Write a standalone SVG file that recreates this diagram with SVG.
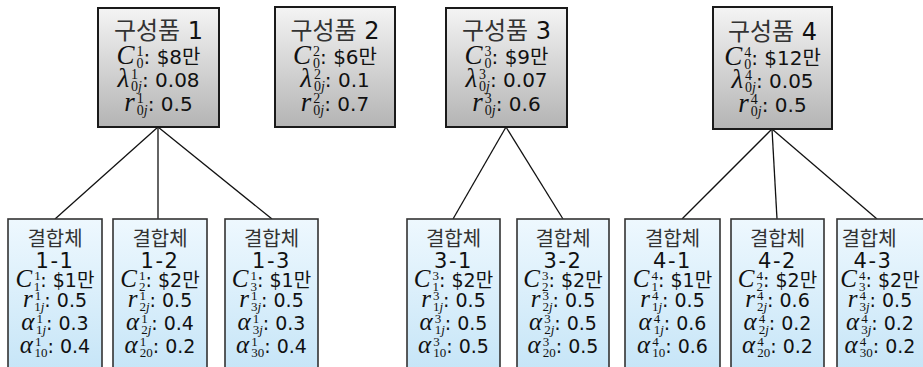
<svg xmlns="http://www.w3.org/2000/svg" width="923" height="367" viewBox="0 0 923 367">
<defs>
<linearGradient id="gg" x1="0" y1="0" x2="0" y2="1"><stop offset="0" stop-color="#f4f4f4"/><stop offset="1" stop-color="#b4b4b4"/></linearGradient>
<linearGradient id="gb" x1="0" y1="0" x2="0" y2="1"><stop offset="0" stop-color="#eef8fe"/><stop offset="1" stop-color="#c4e4f7"/></linearGradient>
</defs>
<style>
.top{fill:url(#gg);stroke:#1a1a1a;stroke-width:2}
.bot{fill:url(#gb);stroke:#333;stroke-width:1.6}
text{font-family:"DejaVu Sans","Noto Sans CJK KR",sans-serif;text-anchor:middle;fill:#111}
.h{font-size:24px;fill:#333}
.hn{fill:#111}
.tv{font-size:20px}
.bv{font-size:19px}
.bk{font-size:20px;fill:#333}
.bn{font-size:21px;letter-spacing:1.5px}
.mt{font-family:"Liberation Serif",serif;font-style:italic;font-size:27px}
.mb{font-family:"Liberation Serif",serif;font-style:italic;font-size:25px}
.st{font-family:"Liberation Serif",serif;font-style:normal;font-size:14px}
.sb{font-family:"Liberation Serif",serif;font-style:normal;font-size:13px}
.i{font-style:italic}
.c line{stroke:#111;stroke-width:1.3}
</style>
<g class="c" id="connectors">
<line x1="158" y1="127" x2="55" y2="219"/>
<line x1="158" y1="127" x2="158" y2="219"/>
<line x1="158" y1="127" x2="272" y2="219"/>
<line x1="506" y1="127" x2="453" y2="219"/>
<line x1="506" y1="127" x2="563" y2="219"/>
<line x1="772" y1="129" x2="682" y2="219"/>
<line x1="772" y1="129" x2="777" y2="219"/>
<line x1="772" y1="129" x2="877" y2="219"/>
</g>
<g id="comp1">
<rect class="top" x="98" y="8" width="121" height="119"/>
<text class="h" x="158.5" y="39">구성품 <tspan class="hn">1</tspan></text>
<text class="tv" x="158.5" y="64"><tspan class="mt">C</tspan><tspan class="st" dx="2" dy="-8">1</tspan><tspan class="st" dx="-7" dy="12">0</tspan><tspan dy="-4">: $8만</tspan></text>
<text class="tv" x="158.5" y="87"><tspan class="mt">λ</tspan><tspan class="st" dx="2" dy="-8">1</tspan><tspan class="st" dx="-7" dy="12">0<tspan class="i">j</tspan></tspan><tspan dy="-4">: 0.08</tspan></text>
<text class="tv" x="158.5" y="111"><tspan class="mt">r</tspan><tspan class="st" dx="2" dy="-8">1</tspan><tspan class="st" dx="-7" dy="12">0<tspan class="i">j</tspan></tspan><tspan dy="-4">: 0.5</tspan></text>
</g>
<g id="comp2">
<rect class="top" x="275" y="7" width="120" height="120"/>
<text class="h" x="335" y="39">구성품 <tspan class="hn">2</tspan></text>
<text class="tv" x="335" y="64"><tspan class="mt">C</tspan><tspan class="st" dx="2" dy="-8">2</tspan><tspan class="st" dx="-7" dy="12">0</tspan><tspan dy="-4">: $6만</tspan></text>
<text class="tv" x="335" y="87"><tspan class="mt">λ</tspan><tspan class="st" dx="2" dy="-8">2</tspan><tspan class="st" dx="-7" dy="12">0<tspan class="i">j</tspan></tspan><tspan dy="-4">: 0.1</tspan></text>
<text class="tv" x="335" y="111"><tspan class="mt">r</tspan><tspan class="st" dx="2" dy="-8">2</tspan><tspan class="st" dx="-7" dy="12">0<tspan class="i">j</tspan></tspan><tspan dy="-4">: 0.7</tspan></text>
</g>
<g id="comp3">
<rect class="top" x="446" y="8" width="121" height="119"/>
<text class="h" x="506.5" y="39">구성품 <tspan class="hn">3</tspan></text>
<text class="tv" x="506.5" y="64"><tspan class="mt">C</tspan><tspan class="st" dx="2" dy="-8">3</tspan><tspan class="st" dx="-7" dy="12">0</tspan><tspan dy="-4">: $9만</tspan></text>
<text class="tv" x="506.5" y="87"><tspan class="mt">λ</tspan><tspan class="st" dx="2" dy="-8">3</tspan><tspan class="st" dx="-7" dy="12">0<tspan class="i">j</tspan></tspan><tspan dy="-4">: 0.07</tspan></text>
<text class="tv" x="506.5" y="111"><tspan class="mt">r</tspan><tspan class="st" dx="2" dy="-8">3</tspan><tspan class="st" dx="-7" dy="12">0<tspan class="i">j</tspan></tspan><tspan dy="-4">: 0.6</tspan></text>
</g>
<g id="comp4">
<rect class="top" x="713" y="7" width="119" height="122"/>
<text class="h" x="772.5" y="40">구성품 <tspan class="hn">4</tspan></text>
<text class="tv" x="772.5" y="65"><tspan class="mt">C</tspan><tspan class="st" dx="2" dy="-8">4</tspan><tspan class="st" dx="-7" dy="12">0</tspan><tspan dy="-4">: $12만</tspan></text>
<text class="tv" x="772.5" y="88"><tspan class="mt">λ</tspan><tspan class="st" dx="2" dy="-8">4</tspan><tspan class="st" dx="-7" dy="12">0<tspan class="i">j</tspan></tspan><tspan dy="-4">: 0.05</tspan></text>
<text class="tv" x="772.5" y="112"><tspan class="mt">r</tspan><tspan class="st" dx="2" dy="-8">4</tspan><tspan class="st" dx="-7" dy="12">0<tspan class="i">j</tspan></tspan><tspan dy="-4">: 0.5</tspan></text>
</g>
<g id="asm1-1">
<rect class="bot" x="8" y="219" width="94" height="160"/>
<text class="bk" x="55" y="246">결합체</text>
<text class="bn" x="55" y="268">1-1</text>
<text class="bv" x="55" y="287"><tspan class="mb">C</tspan><tspan class="sb" dx="2" dy="-7">1</tspan><tspan class="sb" dx="-6.5" dy="11">1</tspan><tspan dy="-4">: $1만</tspan></text>
<text class="bv" x="55" y="307"><tspan class="mb">r</tspan><tspan class="sb" dx="2" dy="-7">1</tspan><tspan class="sb" dx="-6.5" dy="11">1<tspan class="i">j</tspan></tspan><tspan dy="-4">: 0.5</tspan></text>
<text class="bv" x="55" y="330"><tspan class="mb">α</tspan><tspan class="sb" dx="2" dy="-7">1</tspan><tspan class="sb" dx="-6.5" dy="11">1<tspan class="i">j</tspan></tspan><tspan dy="-4">: 0.3</tspan></text>
<text class="bv" x="55" y="353"><tspan class="mb">α</tspan><tspan class="sb" dx="2" dy="-7">1</tspan><tspan class="sb" dx="-6.5" dy="11">10</tspan><tspan dy="-4">: 0.4</tspan></text>
</g>
<g id="asm1-2">
<rect class="bot" x="113" y="219" width="94" height="160"/>
<text class="bk" x="160" y="246">결합체</text>
<text class="bn" x="160" y="268">1-2</text>
<text class="bv" x="160" y="287"><tspan class="mb">C</tspan><tspan class="sb" dx="2" dy="-7">1</tspan><tspan class="sb" dx="-6.5" dy="11">2</tspan><tspan dy="-4">: $2만</tspan></text>
<text class="bv" x="160" y="307"><tspan class="mb">r</tspan><tspan class="sb" dx="2" dy="-7">1</tspan><tspan class="sb" dx="-6.5" dy="11">2<tspan class="i">j</tspan></tspan><tspan dy="-4">: 0.5</tspan></text>
<text class="bv" x="160" y="330"><tspan class="mb">α</tspan><tspan class="sb" dx="2" dy="-7">1</tspan><tspan class="sb" dx="-6.5" dy="11">2<tspan class="i">j</tspan></tspan><tspan dy="-4">: 0.4</tspan></text>
<text class="bv" x="160" y="353"><tspan class="mb">α</tspan><tspan class="sb" dx="2" dy="-7">1</tspan><tspan class="sb" dx="-6.5" dy="11">20</tspan><tspan dy="-4">: 0.2</tspan></text>
</g>
<g id="asm1-3">
<rect class="bot" x="225" y="219" width="93" height="160"/>
<text class="bk" x="271.5" y="246">결합체</text>
<text class="bn" x="271.5" y="268">1-3</text>
<text class="bv" x="271.5" y="287"><tspan class="mb">C</tspan><tspan class="sb" dx="2" dy="-7">1</tspan><tspan class="sb" dx="-6.5" dy="11">3</tspan><tspan dy="-4">: $1만</tspan></text>
<text class="bv" x="271.5" y="307"><tspan class="mb">r</tspan><tspan class="sb" dx="2" dy="-7">1</tspan><tspan class="sb" dx="-6.5" dy="11">3<tspan class="i">j</tspan></tspan><tspan dy="-4">: 0.5</tspan></text>
<text class="bv" x="271.5" y="330"><tspan class="mb">α</tspan><tspan class="sb" dx="2" dy="-7">1</tspan><tspan class="sb" dx="-6.5" dy="11">3<tspan class="i">j</tspan></tspan><tspan dy="-4">: 0.3</tspan></text>
<text class="bv" x="271.5" y="353"><tspan class="mb">α</tspan><tspan class="sb" dx="2" dy="-7">1</tspan><tspan class="sb" dx="-6.5" dy="11">30</tspan><tspan dy="-4">: 0.4</tspan></text>
</g>
<g id="asm3-1">
<rect class="bot" x="407" y="219" width="93" height="160"/>
<text class="bk" x="453.5" y="246">결합체</text>
<text class="bn" x="453.5" y="268">3-1</text>
<text class="bv" x="453.5" y="287"><tspan class="mb">C</tspan><tspan class="sb" dx="2" dy="-7">3</tspan><tspan class="sb" dx="-6.5" dy="11">1</tspan><tspan dy="-4">: $2만</tspan></text>
<text class="bv" x="453.5" y="307"><tspan class="mb">r</tspan><tspan class="sb" dx="2" dy="-7">3</tspan><tspan class="sb" dx="-6.5" dy="11">1<tspan class="i">j</tspan></tspan><tspan dy="-4">: 0.5</tspan></text>
<text class="bv" x="453.5" y="330"><tspan class="mb">α</tspan><tspan class="sb" dx="2" dy="-7">3</tspan><tspan class="sb" dx="-6.5" dy="11">1<tspan class="i">j</tspan></tspan><tspan dy="-4">: 0.5</tspan></text>
<text class="bv" x="453.5" y="353"><tspan class="mb">α</tspan><tspan class="sb" dx="2" dy="-7">3</tspan><tspan class="sb" dx="-6.5" dy="11">10</tspan><tspan dy="-4">: 0.5</tspan></text>
</g>
<g id="asm3-2">
<rect class="bot" x="517" y="219" width="92" height="160"/>
<text class="bk" x="563" y="246">결합체</text>
<text class="bn" x="563" y="268">3-2</text>
<text class="bv" x="563" y="287"><tspan class="mb">C</tspan><tspan class="sb" dx="2" dy="-7">3</tspan><tspan class="sb" dx="-6.5" dy="11">2</tspan><tspan dy="-4">: $2만</tspan></text>
<text class="bv" x="563" y="307"><tspan class="mb">r</tspan><tspan class="sb" dx="2" dy="-7">3</tspan><tspan class="sb" dx="-6.5" dy="11">2<tspan class="i">j</tspan></tspan><tspan dy="-4">: 0.5</tspan></text>
<text class="bv" x="563" y="330"><tspan class="mb">α</tspan><tspan class="sb" dx="2" dy="-7">3</tspan><tspan class="sb" dx="-6.5" dy="11">2<tspan class="i">j</tspan></tspan><tspan dy="-4">: 0.5</tspan></text>
<text class="bv" x="563" y="353"><tspan class="mb">α</tspan><tspan class="sb" dx="2" dy="-7">3</tspan><tspan class="sb" dx="-6.5" dy="11">20</tspan><tspan dy="-4">: 0.5</tspan></text>
</g>
<g id="asm4-1">
<rect class="bot" x="625" y="219" width="95" height="160"/>
<text class="bk" x="672.5" y="246">결합체</text>
<text class="bn" x="672.5" y="268">4-1</text>
<text class="bv" x="672.5" y="287"><tspan class="mb">C</tspan><tspan class="sb" dx="2" dy="-7">4</tspan><tspan class="sb" dx="-6.5" dy="11">1</tspan><tspan dy="-4">: $1만</tspan></text>
<text class="bv" x="672.5" y="307"><tspan class="mb">r</tspan><tspan class="sb" dx="2" dy="-7">4</tspan><tspan class="sb" dx="-6.5" dy="11">1<tspan class="i">j</tspan></tspan><tspan dy="-4">: 0.5</tspan></text>
<text class="bv" x="672.5" y="330"><tspan class="mb">α</tspan><tspan class="sb" dx="2" dy="-7">4</tspan><tspan class="sb" dx="-6.5" dy="11">1<tspan class="i">j</tspan></tspan><tspan dy="-4">: 0.6</tspan></text>
<text class="bv" x="672.5" y="353"><tspan class="mb">α</tspan><tspan class="sb" dx="2" dy="-7">4</tspan><tspan class="sb" dx="-6.5" dy="11">10</tspan><tspan dy="-4">: 0.6</tspan></text>
</g>
<g id="asm4-2">
<rect class="bot" x="731" y="219" width="93" height="160"/>
<text class="bk" x="777.5" y="246">결합체</text>
<text class="bn" x="777.5" y="268">4-2</text>
<text class="bv" x="777.5" y="287"><tspan class="mb">C</tspan><tspan class="sb" dx="2" dy="-7">4</tspan><tspan class="sb" dx="-6.5" dy="11">2</tspan><tspan dy="-4">: $2만</tspan></text>
<text class="bv" x="777.5" y="307"><tspan class="mb">r</tspan><tspan class="sb" dx="2" dy="-7">4</tspan><tspan class="sb" dx="-6.5" dy="11">2<tspan class="i">j</tspan></tspan><tspan dy="-4">: 0.6</tspan></text>
<text class="bv" x="777.5" y="330"><tspan class="mb">α</tspan><tspan class="sb" dx="2" dy="-7">4</tspan><tspan class="sb" dx="-6.5" dy="11">2<tspan class="i">j</tspan></tspan><tspan dy="-4">: 0.2</tspan></text>
<text class="bv" x="777.5" y="353"><tspan class="mb">α</tspan><tspan class="sb" dx="2" dy="-7">4</tspan><tspan class="sb" dx="-6.5" dy="11">20</tspan><tspan dy="-4">: 0.2</tspan></text>
</g>
<g id="asm4-3">
<rect class="bot" x="837" y="219" width="94" height="160"/>
<text class="bk" x="869" y="246">결합체</text>
<text class="bn" x="873" y="268">4-3</text>
<text class="bv" x="880" y="287"><tspan class="mb">C</tspan><tspan class="sb" dx="2" dy="-7">4</tspan><tspan class="sb" dx="-6.5" dy="11">3</tspan><tspan dy="-4">: $2만</tspan></text>
<text class="bv" x="880" y="307"><tspan class="mb">r</tspan><tspan class="sb" dx="2" dy="-7">4</tspan><tspan class="sb" dx="-6.5" dy="11">3<tspan class="i">j</tspan></tspan><tspan dy="-4">: 0.5</tspan></text>
<text class="bv" x="880" y="330"><tspan class="mb">α</tspan><tspan class="sb" dx="2" dy="-7">4</tspan><tspan class="sb" dx="-6.5" dy="11">3<tspan class="i">j</tspan></tspan><tspan dy="-4">: 0.2</tspan></text>
<text class="bv" x="880" y="353"><tspan class="mb">α</tspan><tspan class="sb" dx="2" dy="-7">4</tspan><tspan class="sb" dx="-6.5" dy="11">30</tspan><tspan dy="-4">: 0.2</tspan></text>
</g>
</svg>
